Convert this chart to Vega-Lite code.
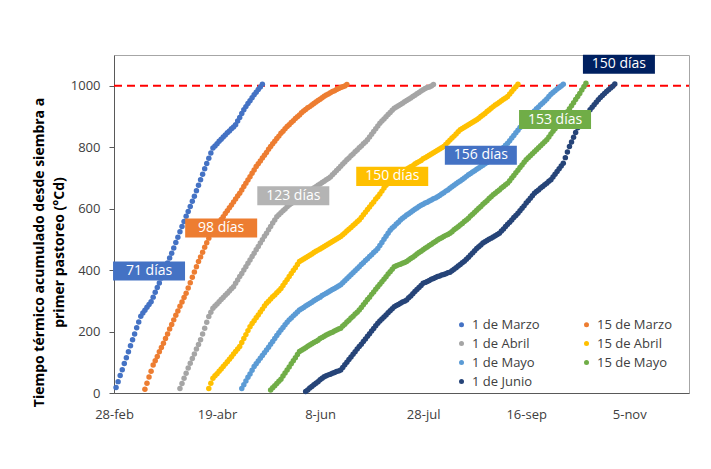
{
"$schema":"https://vega.github.io/schema/vega-lite/v6.json",
"width":575,"height":338,
"autosize":{"type":"none"},
"padding":{"left":114,"top":55,"right":22,"bottom":76},
"background":"white",
"config":{"font":"Open Sans","view":{"stroke":"#A6A6A6","strokeWidth":1}},
"datasets":{
"umbral":[{"fecha":"2021-02-28","fin":"2021-12-04","v":1000}],
"etiquetas":[
{"serie":"1 de Marzo","fecha":"2021-03-17","v":397,"texto":"71 días"},
{"serie":"15 de Marzo","fecha":"2021-04-21","v":537,"texto":"98 días"},
{"serie":"1 de Abril","fecha":"2021-05-26","v":642,"texto":"123 días"},
{"serie":"15 de Abril","fecha":"2021-07-13","v":705,"texto":"150 días"},
{"serie":"1 de Mayo","fecha":"2021-08-25","v":774,"texto":"156 días"},
{"serie":"15 de Mayo","fecha":"2021-09-30","v":890,"texto":"153 días"},
{"serie":"1 de Junio","fecha":"2021-10-31","v":1070,"texto":"150 días"}
],
"s1":[
{"fecha":"2021-03-01","v":18},{"fecha":"2021-03-02","v":37},{"fecha":"2021-03-03","v":57},{"fecha":"2021-03-04","v":76},{"fecha":"2021-03-05","v":96},{"fecha":"2021-03-06","v":115},{"fecha":"2021-03-07","v":134},{"fecha":"2021-03-08","v":154},{"fecha":"2021-03-09","v":173},{"fecha":"2021-03-10","v":192},{"fecha":"2021-03-11","v":212},{"fecha":"2021-03-12","v":231},{"fecha":"2021-03-13","v":250},{"fecha":"2021-03-14","v":260},{"fecha":"2021-03-15","v":269},{"fecha":"2021-03-16","v":279},{"fecha":"2021-03-17","v":288},{"fecha":"2021-03-18","v":297},{"fecha":"2021-03-19","v":312},{"fecha":"2021-03-20","v":328},{"fecha":"2021-03-21","v":343},{"fecha":"2021-03-22","v":358},{"fecha":"2021-03-23","v":374},{"fecha":"2021-03-24","v":390},{"fecha":"2021-03-25","v":406},{"fecha":"2021-03-26","v":423},{"fecha":"2021-03-27","v":439},{"fecha":"2021-03-28","v":455},{"fecha":"2021-03-29","v":472},{"fecha":"2021-03-30","v":490},{"fecha":"2021-03-31","v":507},
{"fecha":"2021-04-01","v":525},{"fecha":"2021-04-02","v":542},{"fecha":"2021-04-03","v":558},{"fecha":"2021-04-04","v":575},{"fecha":"2021-04-05","v":591},{"fecha":"2021-04-06","v":607},{"fecha":"2021-04-07","v":624},{"fecha":"2021-04-08","v":640},{"fecha":"2021-04-09","v":658},{"fecha":"2021-04-10","v":676},{"fecha":"2021-04-11","v":694},{"fecha":"2021-04-12","v":712},{"fecha":"2021-04-13","v":730},{"fecha":"2021-04-14","v":747},{"fecha":"2021-04-15","v":764},{"fecha":"2021-04-16","v":781},{"fecha":"2021-04-17","v":797},{"fecha":"2021-04-18","v":804},{"fecha":"2021-04-19","v":811},{"fecha":"2021-04-20","v":819},{"fecha":"2021-04-21","v":826},{"fecha":"2021-04-22","v":833},{"fecha":"2021-04-23","v":840},{"fecha":"2021-04-24","v":847},{"fecha":"2021-04-25","v":853},{"fecha":"2021-04-26","v":860},{"fecha":"2021-04-27","v":866},{"fecha":"2021-04-28","v":873},{"fecha":"2021-04-29","v":885},{"fecha":"2021-04-30","v":897},
{"fecha":"2021-05-01","v":910},{"fecha":"2021-05-02","v":922},{"fecha":"2021-05-03","v":932},{"fecha":"2021-05-04","v":942},{"fecha":"2021-05-05","v":951},{"fecha":"2021-05-06","v":961},{"fecha":"2021-05-07","v":971},{"fecha":"2021-05-08","v":979},{"fecha":"2021-05-09","v":988},{"fecha":"2021-05-10","v":996},{"fecha":"2021-05-11","v":1005}
],
"s2":[
{"fecha":"2021-03-15","v":12},{"fecha":"2021-03-16","v":32},{"fecha":"2021-03-17","v":52},{"fecha":"2021-03-18","v":71},{"fecha":"2021-03-19","v":91},{"fecha":"2021-03-20","v":105},{"fecha":"2021-03-21","v":119},{"fecha":"2021-03-22","v":134},{"fecha":"2021-03-23","v":148},{"fecha":"2021-03-24","v":162},{"fecha":"2021-03-25","v":177},{"fecha":"2021-03-26","v":192},{"fecha":"2021-03-27","v":208},{"fecha":"2021-03-28","v":223},{"fecha":"2021-03-29","v":238},{"fecha":"2021-03-30","v":253},{"fecha":"2021-03-31","v":267},
{"fecha":"2021-04-01","v":282},{"fecha":"2021-04-02","v":296},{"fecha":"2021-04-03","v":311},{"fecha":"2021-04-04","v":325},{"fecha":"2021-04-05","v":342},{"fecha":"2021-04-06","v":359},{"fecha":"2021-04-07","v":377},{"fecha":"2021-04-08","v":394},{"fecha":"2021-04-09","v":411},{"fecha":"2021-04-10","v":428},{"fecha":"2021-04-11","v":443},{"fecha":"2021-04-12","v":458},{"fecha":"2021-04-13","v":474},{"fecha":"2021-04-14","v":489},{"fecha":"2021-04-15","v":504},{"fecha":"2021-04-16","v":517},{"fecha":"2021-04-17","v":530},{"fecha":"2021-04-18","v":539},{"fecha":"2021-04-19","v":548},{"fecha":"2021-04-20","v":556},{"fecha":"2021-04-21","v":565},{"fecha":"2021-04-22","v":574},{"fecha":"2021-04-23","v":584},{"fecha":"2021-04-24","v":593},{"fecha":"2021-04-25","v":603},{"fecha":"2021-04-26","v":612},{"fecha":"2021-04-27","v":622},{"fecha":"2021-04-28","v":631},{"fecha":"2021-04-29","v":641},{"fecha":"2021-04-30","v":650},
{"fecha":"2021-05-01","v":661},{"fecha":"2021-05-02","v":672},{"fecha":"2021-05-03","v":683},{"fecha":"2021-05-04","v":693},{"fecha":"2021-05-05","v":704},{"fecha":"2021-05-06","v":715},{"fecha":"2021-05-07","v":726},{"fecha":"2021-05-08","v":737},{"fecha":"2021-05-09","v":746},{"fecha":"2021-05-10","v":755},{"fecha":"2021-05-11","v":765},{"fecha":"2021-05-12","v":774},{"fecha":"2021-05-13","v":783},{"fecha":"2021-05-14","v":793},{"fecha":"2021-05-15","v":802},{"fecha":"2021-05-16","v":811},{"fecha":"2021-05-17","v":819},{"fecha":"2021-05-18","v":828},{"fecha":"2021-05-19","v":836},{"fecha":"2021-05-20","v":845},{"fecha":"2021-05-21","v":852},{"fecha":"2021-05-22","v":860},{"fecha":"2021-05-23","v":867},{"fecha":"2021-05-24","v":873},{"fecha":"2021-05-25","v":880},{"fecha":"2021-05-26","v":886},{"fecha":"2021-05-27","v":893},{"fecha":"2021-05-28","v":899},{"fecha":"2021-05-29","v":905},{"fecha":"2021-05-30","v":912},{"fecha":"2021-05-31","v":918},
{"fecha":"2021-06-01","v":923},{"fecha":"2021-06-02","v":928},{"fecha":"2021-06-03","v":932},{"fecha":"2021-06-04","v":937},{"fecha":"2021-06-05","v":942},{"fecha":"2021-06-06","v":947},{"fecha":"2021-06-07","v":952},{"fecha":"2021-06-08","v":956},{"fecha":"2021-06-09","v":961},{"fecha":"2021-06-10","v":966},{"fecha":"2021-06-11","v":970},{"fecha":"2021-06-12","v":973},{"fecha":"2021-06-13","v":977},{"fecha":"2021-06-14","v":981},{"fecha":"2021-06-15","v":984},{"fecha":"2021-06-16","v":988},{"fecha":"2021-06-17","v":991},{"fecha":"2021-06-18","v":994},{"fecha":"2021-06-19","v":997},{"fecha":"2021-06-20","v":999},{"fecha":"2021-06-21","v":1004}
],
"s3":[
{"fecha":"2021-04-01","v":15},{"fecha":"2021-04-02","v":31},{"fecha":"2021-04-03","v":48},{"fecha":"2021-04-04","v":64},{"fecha":"2021-04-05","v":81},{"fecha":"2021-04-06","v":97},{"fecha":"2021-04-07","v":112},{"fecha":"2021-04-08","v":127},{"fecha":"2021-04-09","v":143},{"fecha":"2021-04-10","v":158},{"fecha":"2021-04-11","v":173},{"fecha":"2021-04-12","v":192},{"fecha":"2021-04-13","v":211},{"fecha":"2021-04-14","v":230},{"fecha":"2021-04-15","v":249},{"fecha":"2021-04-16","v":263},{"fecha":"2021-04-17","v":276},{"fecha":"2021-04-18","v":283},{"fecha":"2021-04-19","v":290},{"fecha":"2021-04-20","v":297},{"fecha":"2021-04-21","v":304},{"fecha":"2021-04-22","v":311},{"fecha":"2021-04-23","v":318},{"fecha":"2021-04-24","v":325},{"fecha":"2021-04-25","v":332},{"fecha":"2021-04-26","v":339},{"fecha":"2021-04-27","v":346},{"fecha":"2021-04-28","v":357},{"fecha":"2021-04-29","v":368},{"fecha":"2021-04-30","v":379},
{"fecha":"2021-05-01","v":389},{"fecha":"2021-05-02","v":400},{"fecha":"2021-05-03","v":411},{"fecha":"2021-05-04","v":422},{"fecha":"2021-05-05","v":433},{"fecha":"2021-05-06","v":444},{"fecha":"2021-05-07","v":455},{"fecha":"2021-05-08","v":466},{"fecha":"2021-05-09","v":477},{"fecha":"2021-05-10","v":488},{"fecha":"2021-05-11","v":499},{"fecha":"2021-05-12","v":510},{"fecha":"2021-05-13","v":520},{"fecha":"2021-05-14","v":531},{"fecha":"2021-05-15","v":542},{"fecha":"2021-05-16","v":553},{"fecha":"2021-05-17","v":563},{"fecha":"2021-05-18","v":574},{"fecha":"2021-05-19","v":580},{"fecha":"2021-05-20","v":587},{"fecha":"2021-05-21","v":593},{"fecha":"2021-05-22","v":599},{"fecha":"2021-05-23","v":606},{"fecha":"2021-05-24","v":612},{"fecha":"2021-05-25","v":617},{"fecha":"2021-05-26","v":621},{"fecha":"2021-05-27","v":626},{"fecha":"2021-05-28","v":630},{"fecha":"2021-05-29","v":635},{"fecha":"2021-05-30","v":639},{"fecha":"2021-05-31","v":644},
{"fecha":"2021-06-01","v":648},{"fecha":"2021-06-02","v":653},{"fecha":"2021-06-03","v":657},{"fecha":"2021-06-04","v":662},{"fecha":"2021-06-05","v":667},{"fecha":"2021-06-06","v":671},{"fecha":"2021-06-07","v":676},{"fecha":"2021-06-08","v":680},{"fecha":"2021-06-09","v":685},{"fecha":"2021-06-10","v":689},{"fecha":"2021-06-11","v":694},{"fecha":"2021-06-12","v":698},{"fecha":"2021-06-13","v":703},{"fecha":"2021-06-14","v":710},{"fecha":"2021-06-15","v":717},{"fecha":"2021-06-16","v":724},{"fecha":"2021-06-17","v":731},{"fecha":"2021-06-18","v":738},{"fecha":"2021-06-19","v":745},{"fecha":"2021-06-20","v":752},{"fecha":"2021-06-21","v":759},{"fecha":"2021-06-22","v":765},{"fecha":"2021-06-23","v":772},{"fecha":"2021-06-24","v":778},{"fecha":"2021-06-25","v":785},{"fecha":"2021-06-26","v":791},{"fecha":"2021-06-27","v":798},{"fecha":"2021-06-28","v":804},{"fecha":"2021-06-29","v":811},{"fecha":"2021-06-30","v":817},
{"fecha":"2021-07-01","v":824},{"fecha":"2021-07-02","v":833},{"fecha":"2021-07-03","v":842},{"fecha":"2021-07-04","v":851},{"fecha":"2021-07-05","v":860},{"fecha":"2021-07-06","v":869},{"fecha":"2021-07-07","v":878},{"fecha":"2021-07-08","v":885},{"fecha":"2021-07-09","v":892},{"fecha":"2021-07-10","v":899},{"fecha":"2021-07-11","v":906},{"fecha":"2021-07-12","v":913},{"fecha":"2021-07-13","v":920},{"fecha":"2021-07-14","v":927},{"fecha":"2021-07-15","v":931},{"fecha":"2021-07-16","v":935},{"fecha":"2021-07-17","v":939},{"fecha":"2021-07-18","v":943},{"fecha":"2021-07-19","v":948},{"fecha":"2021-07-20","v":952},{"fecha":"2021-07-21","v":956},{"fecha":"2021-07-22","v":960},{"fecha":"2021-07-23","v":965},{"fecha":"2021-07-24","v":969},{"fecha":"2021-07-25","v":974},{"fecha":"2021-07-26","v":978},{"fecha":"2021-07-27","v":983},{"fecha":"2021-07-28","v":987},{"fecha":"2021-07-29","v":991},{"fecha":"2021-07-30","v":994},{"fecha":"2021-07-31","v":996},
{"fecha":"2021-08-01","v":999},{"fecha":"2021-08-02","v":1004}
],
"s4":[
{"fecha":"2021-04-15","v":15},{"fecha":"2021-04-16","v":32},{"fecha":"2021-04-17","v":48},{"fecha":"2021-04-18","v":56},{"fecha":"2021-04-19","v":63},{"fecha":"2021-04-20","v":71},{"fecha":"2021-04-21","v":78},{"fecha":"2021-04-22","v":86},{"fecha":"2021-04-23","v":94},{"fecha":"2021-04-24","v":102},{"fecha":"2021-04-25","v":110},{"fecha":"2021-04-26","v":118},{"fecha":"2021-04-27","v":127},{"fecha":"2021-04-28","v":135},{"fecha":"2021-04-29","v":143},{"fecha":"2021-04-30","v":151},
{"fecha":"2021-05-01","v":164},{"fecha":"2021-05-02","v":177},{"fecha":"2021-05-03","v":190},{"fecha":"2021-05-04","v":203},{"fecha":"2021-05-05","v":216},{"fecha":"2021-05-06","v":226},{"fecha":"2021-05-07","v":235},{"fecha":"2021-05-08","v":245},{"fecha":"2021-05-09","v":254},{"fecha":"2021-05-10","v":264},{"fecha":"2021-05-11","v":273},{"fecha":"2021-05-12","v":283},{"fecha":"2021-05-13","v":292},{"fecha":"2021-05-14","v":299},{"fecha":"2021-05-15","v":306},{"fecha":"2021-05-16","v":313},{"fecha":"2021-05-17","v":319},{"fecha":"2021-05-18","v":326},{"fecha":"2021-05-19","v":333},{"fecha":"2021-05-20","v":340},{"fecha":"2021-05-21","v":350},{"fecha":"2021-05-22","v":360},{"fecha":"2021-05-23","v":369},{"fecha":"2021-05-24","v":379},{"fecha":"2021-05-25","v":389},{"fecha":"2021-05-26","v":399},{"fecha":"2021-05-27","v":408},{"fecha":"2021-05-28","v":418},{"fecha":"2021-05-29","v":428},{"fecha":"2021-05-30","v":432},{"fecha":"2021-05-31","v":436},
{"fecha":"2021-06-01","v":440},{"fecha":"2021-06-02","v":444},{"fecha":"2021-06-03","v":448},{"fecha":"2021-06-04","v":452},{"fecha":"2021-06-05","v":457},{"fecha":"2021-06-06","v":461},{"fecha":"2021-06-07","v":465},{"fecha":"2021-06-08","v":469},{"fecha":"2021-06-09","v":473},{"fecha":"2021-06-10","v":477},{"fecha":"2021-06-11","v":481},{"fecha":"2021-06-12","v":485},{"fecha":"2021-06-13","v":489},{"fecha":"2021-06-14","v":493},{"fecha":"2021-06-15","v":497},{"fecha":"2021-06-16","v":501},{"fecha":"2021-06-17","v":505},{"fecha":"2021-06-18","v":509},{"fecha":"2021-06-19","v":515},{"fecha":"2021-06-20","v":521},{"fecha":"2021-06-21","v":527},{"fecha":"2021-06-22","v":533},{"fecha":"2021-06-23","v":539},{"fecha":"2021-06-24","v":545},{"fecha":"2021-06-25","v":551},{"fecha":"2021-06-26","v":557},{"fecha":"2021-06-27","v":563},{"fecha":"2021-06-28","v":571},{"fecha":"2021-06-29","v":580},{"fecha":"2021-06-30","v":588},
{"fecha":"2021-07-01","v":597},{"fecha":"2021-07-02","v":605},{"fecha":"2021-07-03","v":614},{"fecha":"2021-07-04","v":622},{"fecha":"2021-07-05","v":631},{"fecha":"2021-07-06","v":639},{"fecha":"2021-07-07","v":648},{"fecha":"2021-07-08","v":657},{"fecha":"2021-07-09","v":667},{"fecha":"2021-07-10","v":676},{"fecha":"2021-07-11","v":685},{"fecha":"2021-07-12","v":694},{"fecha":"2021-07-13","v":698},{"fecha":"2021-07-14","v":702},{"fecha":"2021-07-15","v":707},{"fecha":"2021-07-16","v":711},{"fecha":"2021-07-17","v":715},{"fecha":"2021-07-18","v":719},{"fecha":"2021-07-19","v":724},{"fecha":"2021-07-20","v":728},{"fecha":"2021-07-21","v":732},{"fecha":"2021-07-22","v":736},{"fecha":"2021-07-23","v":740},{"fecha":"2021-07-24","v":745},{"fecha":"2021-07-25","v":749},{"fecha":"2021-07-26","v":753},{"fecha":"2021-07-27","v":757},{"fecha":"2021-07-28","v":762},{"fecha":"2021-07-29","v":766},{"fecha":"2021-07-30","v":770},{"fecha":"2021-07-31","v":774},
{"fecha":"2021-08-01","v":778},{"fecha":"2021-08-02","v":782},{"fecha":"2021-08-03","v":786},{"fecha":"2021-08-04","v":790},{"fecha":"2021-08-05","v":794},{"fecha":"2021-08-06","v":798},{"fecha":"2021-08-07","v":802},{"fecha":"2021-08-08","v":809},{"fecha":"2021-08-09","v":816},{"fecha":"2021-08-10","v":823},{"fecha":"2021-08-11","v":830},{"fecha":"2021-08-12","v":836},{"fecha":"2021-08-13","v":843},{"fecha":"2021-08-14","v":850},{"fecha":"2021-08-15","v":857},{"fecha":"2021-08-16","v":861},{"fecha":"2021-08-17","v":865},{"fecha":"2021-08-18","v":869},{"fecha":"2021-08-19","v":873},{"fecha":"2021-08-20","v":877},{"fecha":"2021-08-21","v":881},{"fecha":"2021-08-22","v":885},{"fecha":"2021-08-23","v":889},{"fecha":"2021-08-24","v":894},{"fecha":"2021-08-25","v":900},{"fecha":"2021-08-26","v":905},{"fecha":"2021-08-27","v":910},{"fecha":"2021-08-28","v":916},{"fecha":"2021-08-29","v":921},{"fecha":"2021-08-30","v":927},{"fecha":"2021-08-31","v":932},
{"fecha":"2021-09-01","v":937},{"fecha":"2021-09-02","v":941},{"fecha":"2021-09-03","v":946},{"fecha":"2021-09-04","v":951},{"fecha":"2021-09-05","v":956},{"fecha":"2021-09-06","v":960},{"fecha":"2021-09-07","v":965},{"fecha":"2021-09-08","v":973},{"fecha":"2021-09-09","v":981},{"fecha":"2021-09-10","v":989},{"fecha":"2021-09-11","v":997},{"fecha":"2021-09-12","v":1005}
],
"s5":[
{"fecha":"2021-05-01","v":15},{"fecha":"2021-05-02","v":27},{"fecha":"2021-05-03","v":39},{"fecha":"2021-05-04","v":51},{"fecha":"2021-05-05","v":62},{"fecha":"2021-05-06","v":74},{"fecha":"2021-05-07","v":86},{"fecha":"2021-05-08","v":95},{"fecha":"2021-05-09","v":104},{"fecha":"2021-05-10","v":113},{"fecha":"2021-05-11","v":122},{"fecha":"2021-05-12","v":131},{"fecha":"2021-05-13","v":140},{"fecha":"2021-05-14","v":149},{"fecha":"2021-05-15","v":159},{"fecha":"2021-05-16","v":168},{"fecha":"2021-05-17","v":177},{"fecha":"2021-05-18","v":187},{"fecha":"2021-05-19","v":196},{"fecha":"2021-05-20","v":205},{"fecha":"2021-05-21","v":213},{"fecha":"2021-05-22","v":222},{"fecha":"2021-05-23","v":230},{"fecha":"2021-05-24","v":238},{"fecha":"2021-05-25","v":244},{"fecha":"2021-05-26","v":251},{"fecha":"2021-05-27","v":257},{"fecha":"2021-05-28","v":264},{"fecha":"2021-05-29","v":270},{"fecha":"2021-05-30","v":274},{"fecha":"2021-05-31","v":278},
{"fecha":"2021-06-01","v":283},{"fecha":"2021-06-02","v":287},{"fecha":"2021-06-03","v":291},{"fecha":"2021-06-04","v":295},{"fecha":"2021-06-05","v":300},{"fecha":"2021-06-06","v":304},{"fecha":"2021-06-07","v":308},{"fecha":"2021-06-08","v":312},{"fecha":"2021-06-09","v":317},{"fecha":"2021-06-10","v":321},{"fecha":"2021-06-11","v":325},{"fecha":"2021-06-12","v":329},{"fecha":"2021-06-13","v":333},{"fecha":"2021-06-14","v":337},{"fecha":"2021-06-15","v":340},{"fecha":"2021-06-16","v":344},{"fecha":"2021-06-17","v":348},{"fecha":"2021-06-18","v":352},{"fecha":"2021-06-19","v":359},{"fecha":"2021-06-20","v":365},{"fecha":"2021-06-21","v":372},{"fecha":"2021-06-22","v":378},{"fecha":"2021-06-23","v":385},{"fecha":"2021-06-24","v":391},{"fecha":"2021-06-25","v":398},{"fecha":"2021-06-26","v":404},{"fecha":"2021-06-27","v":411},{"fecha":"2021-06-28","v":418},{"fecha":"2021-06-29","v":424},{"fecha":"2021-06-30","v":431},
{"fecha":"2021-07-01","v":437},{"fecha":"2021-07-02","v":444},{"fecha":"2021-07-03","v":450},{"fecha":"2021-07-04","v":457},{"fecha":"2021-07-05","v":463},{"fecha":"2021-07-06","v":470},{"fecha":"2021-07-07","v":480},{"fecha":"2021-07-08","v":490},{"fecha":"2021-07-09","v":500},{"fecha":"2021-07-10","v":510},{"fecha":"2021-07-11","v":520},{"fecha":"2021-07-12","v":530},{"fecha":"2021-07-13","v":537},{"fecha":"2021-07-14","v":543},{"fecha":"2021-07-15","v":550},{"fecha":"2021-07-16","v":556},{"fecha":"2021-07-17","v":563},{"fecha":"2021-07-18","v":569},{"fecha":"2021-07-19","v":574},{"fecha":"2021-07-20","v":579},{"fecha":"2021-07-21","v":583},{"fecha":"2021-07-22","v":588},{"fecha":"2021-07-23","v":593},{"fecha":"2021-07-24","v":598},{"fecha":"2021-07-25","v":602},{"fecha":"2021-07-26","v":607},{"fecha":"2021-07-27","v":611},{"fecha":"2021-07-28","v":614},{"fecha":"2021-07-29","v":618},{"fecha":"2021-07-30","v":621},{"fecha":"2021-07-31","v":625},
{"fecha":"2021-08-01","v":628},{"fecha":"2021-08-02","v":632},{"fecha":"2021-08-03","v":635},{"fecha":"2021-08-04","v":639},{"fecha":"2021-08-05","v":643},{"fecha":"2021-08-06","v":648},{"fecha":"2021-08-07","v":652},{"fecha":"2021-08-08","v":657},{"fecha":"2021-08-09","v":661},{"fecha":"2021-08-10","v":666},{"fecha":"2021-08-11","v":671},{"fecha":"2021-08-12","v":676},{"fecha":"2021-08-13","v":681},{"fecha":"2021-08-14","v":686},{"fecha":"2021-08-15","v":690},{"fecha":"2021-08-16","v":695},{"fecha":"2021-08-17","v":700},{"fecha":"2021-08-18","v":705},{"fecha":"2021-08-19","v":710},{"fecha":"2021-08-20","v":714},{"fecha":"2021-08-21","v":719},{"fecha":"2021-08-22","v":723},{"fecha":"2021-08-23","v":728},{"fecha":"2021-08-24","v":732},{"fecha":"2021-08-25","v":737},{"fecha":"2021-08-26","v":741},{"fecha":"2021-08-27","v":746},{"fecha":"2021-08-28","v":750},{"fecha":"2021-08-29","v":755},{"fecha":"2021-08-30","v":759},{"fecha":"2021-08-31","v":766},
{"fecha":"2021-09-01","v":772},{"fecha":"2021-09-02","v":779},{"fecha":"2021-09-03","v":786},{"fecha":"2021-09-04","v":793},{"fecha":"2021-09-05","v":799},{"fecha":"2021-09-06","v":806},{"fecha":"2021-09-07","v":813},{"fecha":"2021-09-08","v":821},{"fecha":"2021-09-09","v":830},{"fecha":"2021-09-10","v":838},{"fecha":"2021-09-11","v":847},{"fecha":"2021-09-12","v":855},{"fecha":"2021-09-13","v":864},{"fecha":"2021-09-14","v":872},{"fecha":"2021-09-15","v":881},{"fecha":"2021-09-16","v":889},{"fecha":"2021-09-17","v":896},{"fecha":"2021-09-18","v":903},{"fecha":"2021-09-19","v":911},{"fecha":"2021-09-20","v":918},{"fecha":"2021-09-21","v":925},{"fecha":"2021-09-22","v":931},{"fecha":"2021-09-23","v":938},{"fecha":"2021-09-24","v":944},{"fecha":"2021-09-25","v":950},{"fecha":"2021-09-26","v":957},{"fecha":"2021-09-27","v":965},{"fecha":"2021-09-28","v":972},{"fecha":"2021-09-29","v":978},{"fecha":"2021-09-30","v":984},
{"fecha":"2021-10-01","v":989},{"fecha":"2021-10-02","v":994},{"fecha":"2021-10-03","v":999},{"fecha":"2021-10-04","v":1005}
],
"s6":[
{"fecha":"2021-05-15","v":10},{"fecha":"2021-05-16","v":17},{"fecha":"2021-05-17","v":24},{"fecha":"2021-05-18","v":31},{"fecha":"2021-05-19","v":38},{"fecha":"2021-05-20","v":45},{"fecha":"2021-05-21","v":55},{"fecha":"2021-05-22","v":65},{"fecha":"2021-05-23","v":75},{"fecha":"2021-05-24","v":85},{"fecha":"2021-05-25","v":95},{"fecha":"2021-05-26","v":105},{"fecha":"2021-05-27","v":115},{"fecha":"2021-05-28","v":125},{"fecha":"2021-05-29","v":135},{"fecha":"2021-05-30","v":139},{"fecha":"2021-05-31","v":143},
{"fecha":"2021-06-01","v":147},{"fecha":"2021-06-02","v":152},{"fecha":"2021-06-03","v":156},{"fecha":"2021-06-04","v":160},{"fecha":"2021-06-05","v":164},{"fecha":"2021-06-06","v":168},{"fecha":"2021-06-07","v":172},{"fecha":"2021-06-08","v":177},{"fecha":"2021-06-09","v":181},{"fecha":"2021-06-10","v":185},{"fecha":"2021-06-11","v":189},{"fecha":"2021-06-12","v":192},{"fecha":"2021-06-13","v":195},{"fecha":"2021-06-14","v":198},{"fecha":"2021-06-15","v":202},{"fecha":"2021-06-16","v":205},{"fecha":"2021-06-17","v":208},{"fecha":"2021-06-18","v":211},{"fecha":"2021-06-19","v":218},{"fecha":"2021-06-20","v":224},{"fecha":"2021-06-21","v":231},{"fecha":"2021-06-22","v":237},{"fecha":"2021-06-23","v":244},{"fecha":"2021-06-24","v":250},{"fecha":"2021-06-25","v":257},{"fecha":"2021-06-26","v":263},{"fecha":"2021-06-27","v":270},{"fecha":"2021-06-28","v":278},{"fecha":"2021-06-29","v":287},{"fecha":"2021-06-30","v":295},
{"fecha":"2021-07-01","v":304},{"fecha":"2021-07-02","v":312},{"fecha":"2021-07-03","v":321},{"fecha":"2021-07-04","v":329},{"fecha":"2021-07-05","v":338},{"fecha":"2021-07-06","v":346},{"fecha":"2021-07-07","v":354},{"fecha":"2021-07-08","v":362},{"fecha":"2021-07-09","v":370},{"fecha":"2021-07-10","v":378},{"fecha":"2021-07-11","v":387},{"fecha":"2021-07-12","v":395},{"fecha":"2021-07-13","v":403},{"fecha":"2021-07-14","v":411},{"fecha":"2021-07-15","v":414},{"fecha":"2021-07-16","v":417},{"fecha":"2021-07-17","v":419},{"fecha":"2021-07-18","v":422},{"fecha":"2021-07-19","v":425},{"fecha":"2021-07-20","v":428},{"fecha":"2021-07-21","v":433},{"fecha":"2021-07-22","v":438},{"fecha":"2021-07-23","v":442},{"fecha":"2021-07-24","v":447},{"fecha":"2021-07-25","v":452},{"fecha":"2021-07-26","v":457},{"fecha":"2021-07-27","v":461},{"fecha":"2021-07-28","v":466},{"fecha":"2021-07-29","v":471},{"fecha":"2021-07-30","v":475},{"fecha":"2021-07-31","v":480},
{"fecha":"2021-08-01","v":484},{"fecha":"2021-08-02","v":489},{"fecha":"2021-08-03","v":493},{"fecha":"2021-08-04","v":498},{"fecha":"2021-08-05","v":502},{"fecha":"2021-08-06","v":505},{"fecha":"2021-08-07","v":509},{"fecha":"2021-08-08","v":513},{"fecha":"2021-08-09","v":516},{"fecha":"2021-08-10","v":520},{"fecha":"2021-08-11","v":525},{"fecha":"2021-08-12","v":531},{"fecha":"2021-08-13","v":536},{"fecha":"2021-08-14","v":541},{"fecha":"2021-08-15","v":547},{"fecha":"2021-08-16","v":552},{"fecha":"2021-08-17","v":558},{"fecha":"2021-08-18","v":563},{"fecha":"2021-08-19","v":569},{"fecha":"2021-08-20","v":576},{"fecha":"2021-08-21","v":582},{"fecha":"2021-08-22","v":588},{"fecha":"2021-08-23","v":595},{"fecha":"2021-08-24","v":601},{"fecha":"2021-08-25","v":607},{"fecha":"2021-08-26","v":614},{"fecha":"2021-08-27","v":620},{"fecha":"2021-08-28","v":626},{"fecha":"2021-08-29","v":633},{"fecha":"2021-08-30","v":639},{"fecha":"2021-08-31","v":645},
{"fecha":"2021-09-01","v":650},{"fecha":"2021-09-02","v":656},{"fecha":"2021-09-03","v":661},{"fecha":"2021-09-04","v":667},{"fecha":"2021-09-05","v":672},{"fecha":"2021-09-06","v":678},{"fecha":"2021-09-07","v":683},{"fecha":"2021-09-08","v":691},{"fecha":"2021-09-09","v":700},{"fecha":"2021-09-10","v":708},{"fecha":"2021-09-11","v":717},{"fecha":"2021-09-12","v":725},{"fecha":"2021-09-13","v":734},{"fecha":"2021-09-14","v":742},{"fecha":"2021-09-15","v":751},{"fecha":"2021-09-16","v":759},{"fecha":"2021-09-17","v":766},{"fecha":"2021-09-18","v":772},{"fecha":"2021-09-19","v":779},{"fecha":"2021-09-20","v":785},{"fecha":"2021-09-21","v":792},{"fecha":"2021-09-22","v":798},{"fecha":"2021-09-23","v":805},{"fecha":"2021-09-24","v":811},{"fecha":"2021-09-25","v":818},{"fecha":"2021-09-26","v":824},{"fecha":"2021-09-27","v":833},{"fecha":"2021-09-28","v":843},{"fecha":"2021-09-29","v":852},{"fecha":"2021-09-30","v":860},
{"fecha":"2021-10-01","v":868},{"fecha":"2021-10-02","v":877},{"fecha":"2021-10-03","v":885},{"fecha":"2021-10-04","v":895},{"fecha":"2021-10-05","v":905},{"fecha":"2021-10-06","v":915},{"fecha":"2021-10-07","v":925},{"fecha":"2021-10-08","v":935},{"fecha":"2021-10-09","v":945},{"fecha":"2021-10-10","v":955},{"fecha":"2021-10-11","v":965},{"fecha":"2021-10-12","v":975},{"fecha":"2021-10-13","v":986},{"fecha":"2021-10-14","v":997},{"fecha":"2021-10-15","v":1008}
],
"s7":[
{"fecha":"2021-06-01","v":5},{"fecha":"2021-06-02","v":10},{"fecha":"2021-06-03","v":16},{"fecha":"2021-06-04","v":21},{"fecha":"2021-06-05","v":27},{"fecha":"2021-06-06","v":32},{"fecha":"2021-06-07","v":37},{"fecha":"2021-06-08","v":43},{"fecha":"2021-06-09","v":48},{"fecha":"2021-06-10","v":53},{"fecha":"2021-06-11","v":56},{"fecha":"2021-06-12","v":59},{"fecha":"2021-06-13","v":61},{"fecha":"2021-06-14","v":64},{"fecha":"2021-06-15","v":67},{"fecha":"2021-06-16","v":70},{"fecha":"2021-06-17","v":72},{"fecha":"2021-06-18","v":75},{"fecha":"2021-06-19","v":83},{"fecha":"2021-06-20","v":92},{"fecha":"2021-06-21","v":100},{"fecha":"2021-06-22","v":109},{"fecha":"2021-06-23","v":117},{"fecha":"2021-06-24","v":126},{"fecha":"2021-06-25","v":134},{"fecha":"2021-06-26","v":143},{"fecha":"2021-06-27","v":151},{"fecha":"2021-06-28","v":159},{"fecha":"2021-06-29","v":168},{"fecha":"2021-06-30","v":176},
{"fecha":"2021-07-01","v":185},{"fecha":"2021-07-02","v":193},{"fecha":"2021-07-03","v":202},{"fecha":"2021-07-04","v":210},{"fecha":"2021-07-05","v":219},{"fecha":"2021-07-06","v":227},{"fecha":"2021-07-07","v":234},{"fecha":"2021-07-08","v":241},{"fecha":"2021-07-09","v":247},{"fecha":"2021-07-10","v":254},{"fecha":"2021-07-11","v":261},{"fecha":"2021-07-12","v":268},{"fecha":"2021-07-13","v":274},{"fecha":"2021-07-14","v":281},{"fecha":"2021-07-15","v":285},{"fecha":"2021-07-16","v":288},{"fecha":"2021-07-17","v":292},{"fecha":"2021-07-18","v":296},{"fecha":"2021-07-19","v":299},{"fecha":"2021-07-20","v":303},{"fecha":"2021-07-21","v":310},{"fecha":"2021-07-22","v":316},{"fecha":"2021-07-23","v":323},{"fecha":"2021-07-24","v":330},{"fecha":"2021-07-25","v":337},{"fecha":"2021-07-26","v":343},{"fecha":"2021-07-27","v":350},{"fecha":"2021-07-28","v":357},{"fecha":"2021-07-29","v":360},{"fecha":"2021-07-30","v":363},{"fecha":"2021-07-31","v":366},
{"fecha":"2021-08-01","v":370},{"fecha":"2021-08-02","v":373},{"fecha":"2021-08-03","v":376},{"fecha":"2021-08-04","v":379},{"fecha":"2021-08-05","v":381},{"fecha":"2021-08-06","v":384},{"fecha":"2021-08-07","v":386},{"fecha":"2021-08-08","v":388},{"fecha":"2021-08-09","v":391},{"fecha":"2021-08-10","v":393},{"fecha":"2021-08-11","v":398},{"fecha":"2021-08-12","v":403},{"fecha":"2021-08-13","v":408},{"fecha":"2021-08-14","v":413},{"fecha":"2021-08-15","v":418},{"fecha":"2021-08-16","v":424},{"fecha":"2021-08-17","v":429},{"fecha":"2021-08-18","v":435},{"fecha":"2021-08-19","v":442},{"fecha":"2021-08-20","v":449},{"fecha":"2021-08-21","v":456},{"fecha":"2021-08-22","v":463},{"fecha":"2021-08-23","v":470},{"fecha":"2021-08-24","v":476},{"fecha":"2021-08-25","v":482},{"fecha":"2021-08-26","v":488},{"fecha":"2021-08-27","v":492},{"fecha":"2021-08-28","v":496},{"fecha":"2021-08-29","v":500},{"fecha":"2021-08-30","v":504},{"fecha":"2021-08-31","v":508},
{"fecha":"2021-09-01","v":512},{"fecha":"2021-09-02","v":516},{"fecha":"2021-09-03","v":520},{"fecha":"2021-09-04","v":527},{"fecha":"2021-09-05","v":534},{"fecha":"2021-09-06","v":542},{"fecha":"2021-09-07","v":549},{"fecha":"2021-09-08","v":556},{"fecha":"2021-09-09","v":563},{"fecha":"2021-09-10","v":571},{"fecha":"2021-09-11","v":578},{"fecha":"2021-09-12","v":585},{"fecha":"2021-09-13","v":593},{"fecha":"2021-09-14","v":601},{"fecha":"2021-09-15","v":609},{"fecha":"2021-09-16","v":618},{"fecha":"2021-09-17","v":626},{"fecha":"2021-09-18","v":634},{"fecha":"2021-09-19","v":642},{"fecha":"2021-09-20","v":650},{"fecha":"2021-09-21","v":656},{"fecha":"2021-09-22","v":661},{"fecha":"2021-09-23","v":667},{"fecha":"2021-09-24","v":672},{"fecha":"2021-09-25","v":678},{"fecha":"2021-09-26","v":683},{"fecha":"2021-09-27","v":689},{"fecha":"2021-09-28","v":694},{"fecha":"2021-09-29","v":703},{"fecha":"2021-09-30","v":712},
{"fecha":"2021-10-01","v":721},{"fecha":"2021-10-02","v":730},{"fecha":"2021-10-03","v":739},{"fecha":"2021-10-04","v":748},{"fecha":"2021-10-05","v":766},{"fecha":"2021-10-06","v":784},{"fecha":"2021-10-07","v":802},{"fecha":"2021-10-08","v":817},{"fecha":"2021-10-09","v":832},{"fecha":"2021-10-10","v":848},{"fecha":"2021-10-11","v":863},{"fecha":"2021-10-12","v":878},{"fecha":"2021-10-13","v":887},{"fecha":"2021-10-14","v":896},{"fecha":"2021-10-15","v":904},{"fecha":"2021-10-16","v":913},{"fecha":"2021-10-17","v":922},{"fecha":"2021-10-18","v":930},{"fecha":"2021-10-19","v":938},{"fecha":"2021-10-20","v":946},{"fecha":"2021-10-21","v":954},{"fecha":"2021-10-22","v":962},{"fecha":"2021-10-23","v":968},{"fecha":"2021-10-24","v":975},{"fecha":"2021-10-25","v":981},{"fecha":"2021-10-26","v":987},{"fecha":"2021-10-27","v":993},{"fecha":"2021-10-28","v":998},{"fecha":"2021-10-29","v":1006}
]
},
"encoding":{
  "x":{"field":"fecha","type":"temporal",
    "scale":{"type":"utc","nice":false,"domain":[{"year":2021,"month":2,"date":28,"utc":true},{"year":2021,"month":12,"date":4,"utc":true}]},
    "axis":{"title":null,"grid":false,"ticks":false,"domainColor":"#595959","labelFontSize":13,"labelColor":"#404040","labelPadding":15,"labelFlush":false,"labelOverlap":false,"labelFont":"Open Sans",
      "values":[{"year":2021,"month":2,"date":28,"utc":true},{"year":2021,"month":4,"date":19,"utc":true},{"year":2021,"month":6,"date":8,"utc":true},{"year":2021,"month":7,"date":28,"utc":true},{"year":2021,"month":9,"date":16,"utc":true},{"year":2021,"month":11,"date":5,"utc":true}],
      "labelExpr":"utcdate(datum.value) + '-' + ['ene','feb','mar','abr','may','jun','jul','ago','sep','oct','nov','dic'][utcmonth(datum.value)]"}},
  "y":{"field":"v","type":"quantitative",
    "scale":{"domain":[0,1100],"nice":false},
    "axis":{"title":["Tiempo térmico acumulado desde siembra a","primer pastoreo (°Cd)"],"values":[0,200,400,600,800,1000],"format":"d","grid":false,"tickSize":5,"tickColor":"#595959","domainColor":"#595959","labelFontSize":13,"labelColor":"#404040","labelPadding":9,"labelFlush":false,"labelFont":"Open Sans","titleFont":"Open Sans","titleFontSize":14,"titleFontWeight":"bold","titleColor":"#000000","titleLineHeight":20,"titlePadding":4,"titleY":197}}
},
"layer":[
  {"data":{"name":"umbral"},"mark":{"type":"rule","color":"#FF0000","strokeWidth":2,"strokeDash":[8,5]},
   "encoding":{"x2":{"field":"fin"}}},
  {"data":{"name":"s1"},"mark":{"type":"point","filled":true,"size":30,"opacity":1},
   "encoding":{"color":{"datum":"1 de Marzo","type":"nominal",
     "scale":{"domain":["1 de Marzo","15 de Marzo","1 de Abril","15 de Abril","1 de Mayo","15 de Mayo","1 de Junio"],"range":["#4472C4","#ED7D31","#A5A5A5","#FFC000","#5B9BD5","#70AD47","#264478"]},
     "legend":{"title":null,"orient":"none","legendX":341,"legendY":263,"direction":"horizontal","columns":2,"columnPadding":40,"rowPadding":5,"symbolType":"circle","symbolSize":25,"labelFontSize":13,"labelColor":"#404040","labelFont":"Open Sans"}}}},
  {"data":{"name":"s2"},"mark":{"type":"point","filled":true,"size":30,"opacity":1},
   "encoding":{"color":{"datum":"15 de Marzo","type":"nominal","scale":{"domain":["1 de Marzo","15 de Marzo","1 de Abril","15 de Abril","1 de Mayo","15 de Mayo","1 de Junio"],"range":["#4472C4","#ED7D31","#A5A5A5","#FFC000","#5B9BD5","#70AD47","#264478"]}}}},
  {"data":{"name":"s3"},"mark":{"type":"point","filled":true,"size":30,"opacity":1},
   "encoding":{"color":{"datum":"1 de Abril","type":"nominal","scale":{"domain":["1 de Marzo","15 de Marzo","1 de Abril","15 de Abril","1 de Mayo","15 de Mayo","1 de Junio"],"range":["#4472C4","#ED7D31","#A5A5A5","#FFC000","#5B9BD5","#70AD47","#264478"]}}}},
  {"data":{"name":"s4"},"mark":{"type":"point","filled":true,"size":30,"opacity":1},
   "encoding":{"color":{"datum":"15 de Abril","type":"nominal","scale":{"domain":["1 de Marzo","15 de Marzo","1 de Abril","15 de Abril","1 de Mayo","15 de Mayo","1 de Junio"],"range":["#4472C4","#ED7D31","#A5A5A5","#FFC000","#5B9BD5","#70AD47","#264478"]}}}},
  {"data":{"name":"s5"},"mark":{"type":"point","filled":true,"size":30,"opacity":1},
   "encoding":{"color":{"datum":"1 de Mayo","type":"nominal","scale":{"domain":["1 de Marzo","15 de Marzo","1 de Abril","15 de Abril","1 de Mayo","15 de Mayo","1 de Junio"],"range":["#4472C4","#ED7D31","#A5A5A5","#FFC000","#5B9BD5","#70AD47","#264478"]}}}},
  {"data":{"name":"s6"},"mark":{"type":"point","filled":true,"size":30,"opacity":1},
   "encoding":{"color":{"datum":"15 de Mayo","type":"nominal","scale":{"domain":["1 de Marzo","15 de Marzo","1 de Abril","15 de Abril","1 de Mayo","15 de Mayo","1 de Junio"],"range":["#4472C4","#ED7D31","#A5A5A5","#FFC000","#5B9BD5","#70AD47","#264478"]}}}},
  {"data":{"name":"s7"},"mark":{"type":"point","filled":true,"size":30,"opacity":1},
   "encoding":{"color":{"datum":"1 de Junio","type":"nominal","scale":{"domain":["1 de Marzo","15 de Marzo","1 de Abril","15 de Abril","1 de Mayo","15 de Mayo","1 de Junio"],"range":["#4472C4","#ED7D31","#A5A5A5","#FFC000","#5B9BD5","#70AD47","#264478"]}}}},
  {"data":{"name":"etiquetas"},"mark":{"type":"point","shape":"M-1,-0.264H1V0.264H-1Z","filled":true,"size":5184,"opacity":1},
   "encoding":{"fill":{"field":"serie","type":"nominal","legend":null,
     "scale":{"domain":["1 de Marzo","15 de Marzo","1 de Abril","15 de Abril","1 de Mayo","15 de Mayo","1 de Junio"],"range":["#4472C4","#ED7D31","#B4B4B4","#FFC000","#4472C4","#70AD47","#002060"]}}}},
  {"data":{"name":"etiquetas"},"mark":{"type":"text","color":"#FFFFFF","fontSize":14,"font":"Open Sans"},
   "encoding":{"text":{"field":"texto","type":"nominal"}}}
]
}
